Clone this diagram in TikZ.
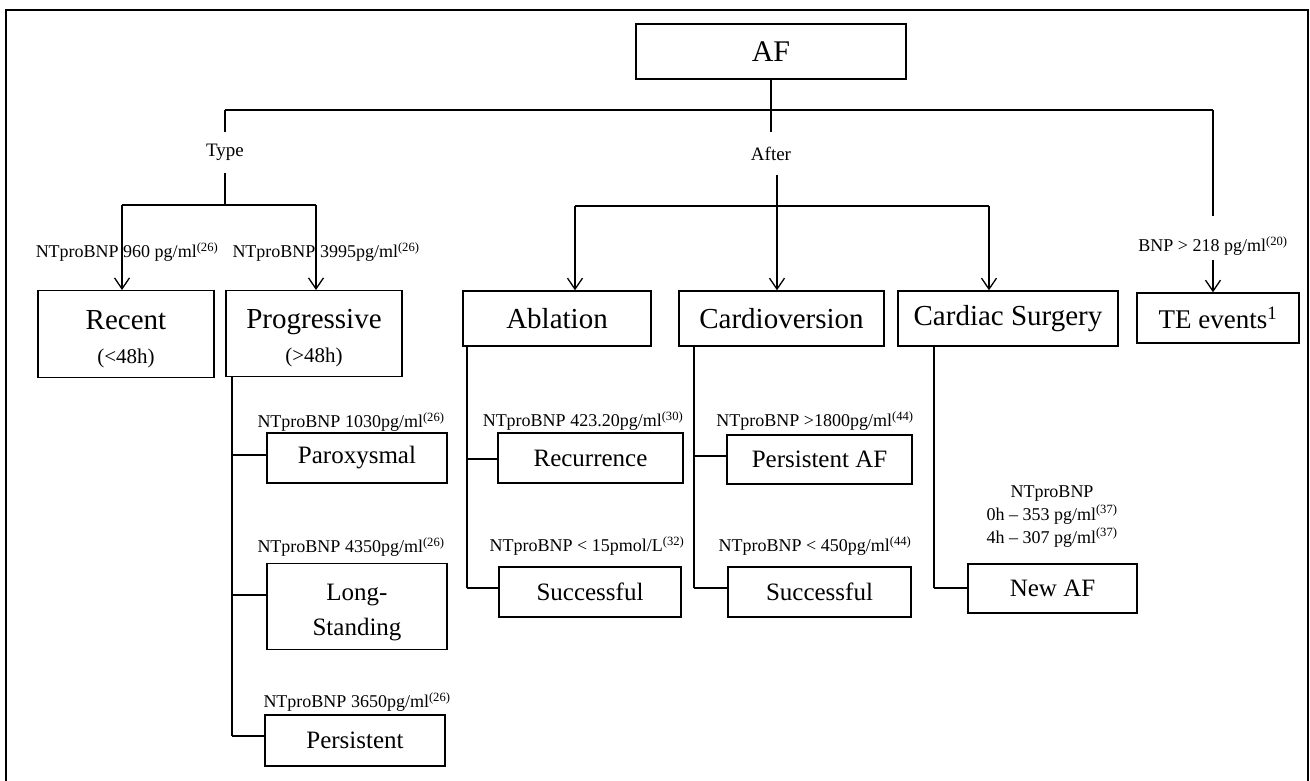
\documentclass[tikz,border=0pt]{standalone}
\usepackage{fontspec}
\setmainfont{Liberation Serif}
\usetikzlibrary{arrows.meta}
\begin{document}
\begin{tikzpicture}[x=1pt,y=-1pt,
  bx/.style={draw, line width=1.4pt, inner sep=0pt, align=center},
  bigtxt/.style={font=\fontsize{29}{34}\selectfont},
  midtxt/.style={font=\fontsize{25}{35}\selectfont},
  lbl/.style={inner sep=0pt, align=center, font=\fontsize{18}{23}\selectfont},
  ln/.style={line width=1.3pt},
  arr/.style={line width=1.3pt, -{Straight Barb[length=11pt,width=15pt]}}]
\useasboundingbox (0,0) rectangle (1310,781);
% outer frame
\draw[line width=2pt] (6,782) -- (6,10) -- (1308,10) -- (1308,782);

% boxes
\node[bx, font=\fontsize{30}{36}\selectfont, minimum width=270, minimum height=55] (af) at (771,51.5) {AF};
\node[bx, bigtxt, minimum width=176, text height=73, text depth=14, anchor=north] (recent) at (126,290) {Recent\\{\fontsize{21}{34}\selectfont(<48h)}};
\node[bx, bigtxt, minimum width=176, text height=72, text depth=14, anchor=north] (prog) at (314,290) {Progressive\\{\fontsize{21}{34}\selectfont(>48h)}};
\node[bx, bigtxt, minimum width=188, minimum height=55] (abl) at (557,318.5) {Ablation};
\node[bx, bigtxt, minimum width=205, minimum height=55] (cardio) at (781.5,318.5) {Cardioversion};
\node[bx, bigtxt, minimum width=220, minimum height=55] (surg) at (1008,318.5) {Cardiac Surgery};
\node[bx, font=\fontsize{27}{32}\selectfont, minimum width=162, minimum height=50] (te) at (1218,318) {TE events\textsuperscript{1}};
\node[bx, midtxt, minimum width=180, minimum height=50] (parox) at (357,458) {Paroxysmal};
\node[bx, midtxt, minimum width=180, text height=72, text depth=14, anchor=north] (long) at (357,563) {Long-\\Standing};
\node[bx, midtxt, minimum width=180, minimum height=51] (pers) at (355,740.5) {Persistent};
\node[bx, midtxt, minimum width=185, minimum height=50] (recur) at (590.5,458) {Recurrence};
\node[bx, midtxt, minimum width=182, minimum height=50] (succa) at (590,592) {Successful};
\node[bx, midtxt, minimum width=185, minimum height=49] (persaf) at (819.5,459.5) {Persistent AF};
\node[bx, midtxt, minimum width=183, minimum height=50] (succc) at (819.5,592) {Successful};
\node[bx, midtxt, minimum width=169, minimum height=49] (newaf) at (1052.5,588.5) {New AF};

% branch labels
\node[lbl, font=\fontsize{19}{23}\selectfont, minimum height=41] (type) at (225,152.5) {Type};
\node[lbl, font=\fontsize{19}{23}\selectfont, minimum height=43] (after) at (771,153.5) {After};

% junction coordinates
\coordinate (jtop) at (771,110);
\coordinate (jl) at (225,110);
\coordinate (jr) at (1213,110);
\coordinate (jtype) at (225,205);
\coordinate (jtl) at (122,205);
\coordinate (jtr) at (316,205);
\coordinate (aftb) at (777,175);
\coordinate (jal) at (575,206);
\coordinate (jar) at (989,206);
\coordinate (bnpa) at (1213,216);
\coordinate (bnpb) at (1213,260);

% top tree
\draw[ln] (af.south) -- (jtop);
\draw[ln] (jl) -- (jr);
\draw[ln] (jl) -- (type.north);
\draw[ln] (type.south) -- (jtype);
\draw[ln] (jtl) -- (jtr);
\draw[arr] (jtl) -- (jtl |- recent.north);
\draw[arr] (jtr) -- (jtr |- prog.north);
\draw[ln] (jtop) -- (after.north);
\draw[arr] (aftb) -- (aftb |- cardio.north);
\draw[ln] (jal) -- (jar);
\draw[arr] (jal) -- (jal |- abl.north);
\draw[arr] (jar) -- (jar |- surg.north);
\draw[ln] (jr) -- (bnpa);
\draw[arr] (bnpb) -- (bnpb |- te.north);

% labels on top arrows
\node[lbl] (l960) at (127,252) {NTproBNP 960 pg/ml\textsuperscript{(26)}};
\node[lbl] (l3995) at (326,252) {NTproBNP 3995pg/ml\textsuperscript{(26)}};
\node[lbl] (lbnp) at (1213,246) {BNP > 218 pg/ml\textsuperscript{(20)}};

% progressive subtree
\coordinate (pv) at (232,376);
\coordinate (pb) at (232,736);
\draw[ln] (pv) -- (pb);
\draw[ln] (232,455) -- (232,455 -| parox.west);
\draw[ln] (232,595) -- (232,595 -| long.west);
\draw[ln] (pb) -- (pb -| pers.west);
\node[lbl] (l1030) at (351,422) {NTproBNP 1030pg/ml\textsuperscript{(26)}};
\node[lbl] (l4350) at (351,547) {NTproBNP 4350pg/ml\textsuperscript{(26)}};
\node[lbl] (l3650) at (357,702) {NTproBNP 3650pg/ml\textsuperscript{(26)}};

% ablation subtree
\coordinate (av) at (467,346);
\coordinate (ab) at (467,588);
\draw[ln] (av) -- (ab);
\draw[ln] (467,459) -- (467,459 -| recur.west);
\draw[ln] (ab) -- (ab -| succa.west);
\node[lbl] (l423) at (583,421) {NTproBNP 423.20pg/ml\textsuperscript{(30)}};
\node[lbl] (l15) at (587,546) {NTproBNP < 15pmol/L\textsuperscript{(32)}};

% cardioversion subtree
\coordinate (cv) at (694,346);
\coordinate (cb) at (694,588);
\draw[ln] (cv) -- (cb);
\draw[ln] (694,456) -- (694,456 -| persaf.west);
\draw[ln] (cb) -- (cb -| succc.west);
\node[lbl] (l1800) at (815,421) {NTproBNP >1800pg/ml\textsuperscript{(44)}};
\node[lbl] (l450) at (815,546) {NTproBNP < 450pg/ml\textsuperscript{(44)}};

% cardiac surgery subtree
\coordinate (sv) at (934,346);
\coordinate (sb) at (934,588);
\draw[ln] (sv) -- (sb);
\draw[ln] (sb) -- (sb -| newaf.west);
\node[lbl, anchor=base] (lnew) at (1052,543) {NTproBNP\\0h – 353 pg/ml\textsuperscript{(37)}\\4h – 307 pg/ml\textsuperscript{(37)}};
\end{tikzpicture}
\end{document}
